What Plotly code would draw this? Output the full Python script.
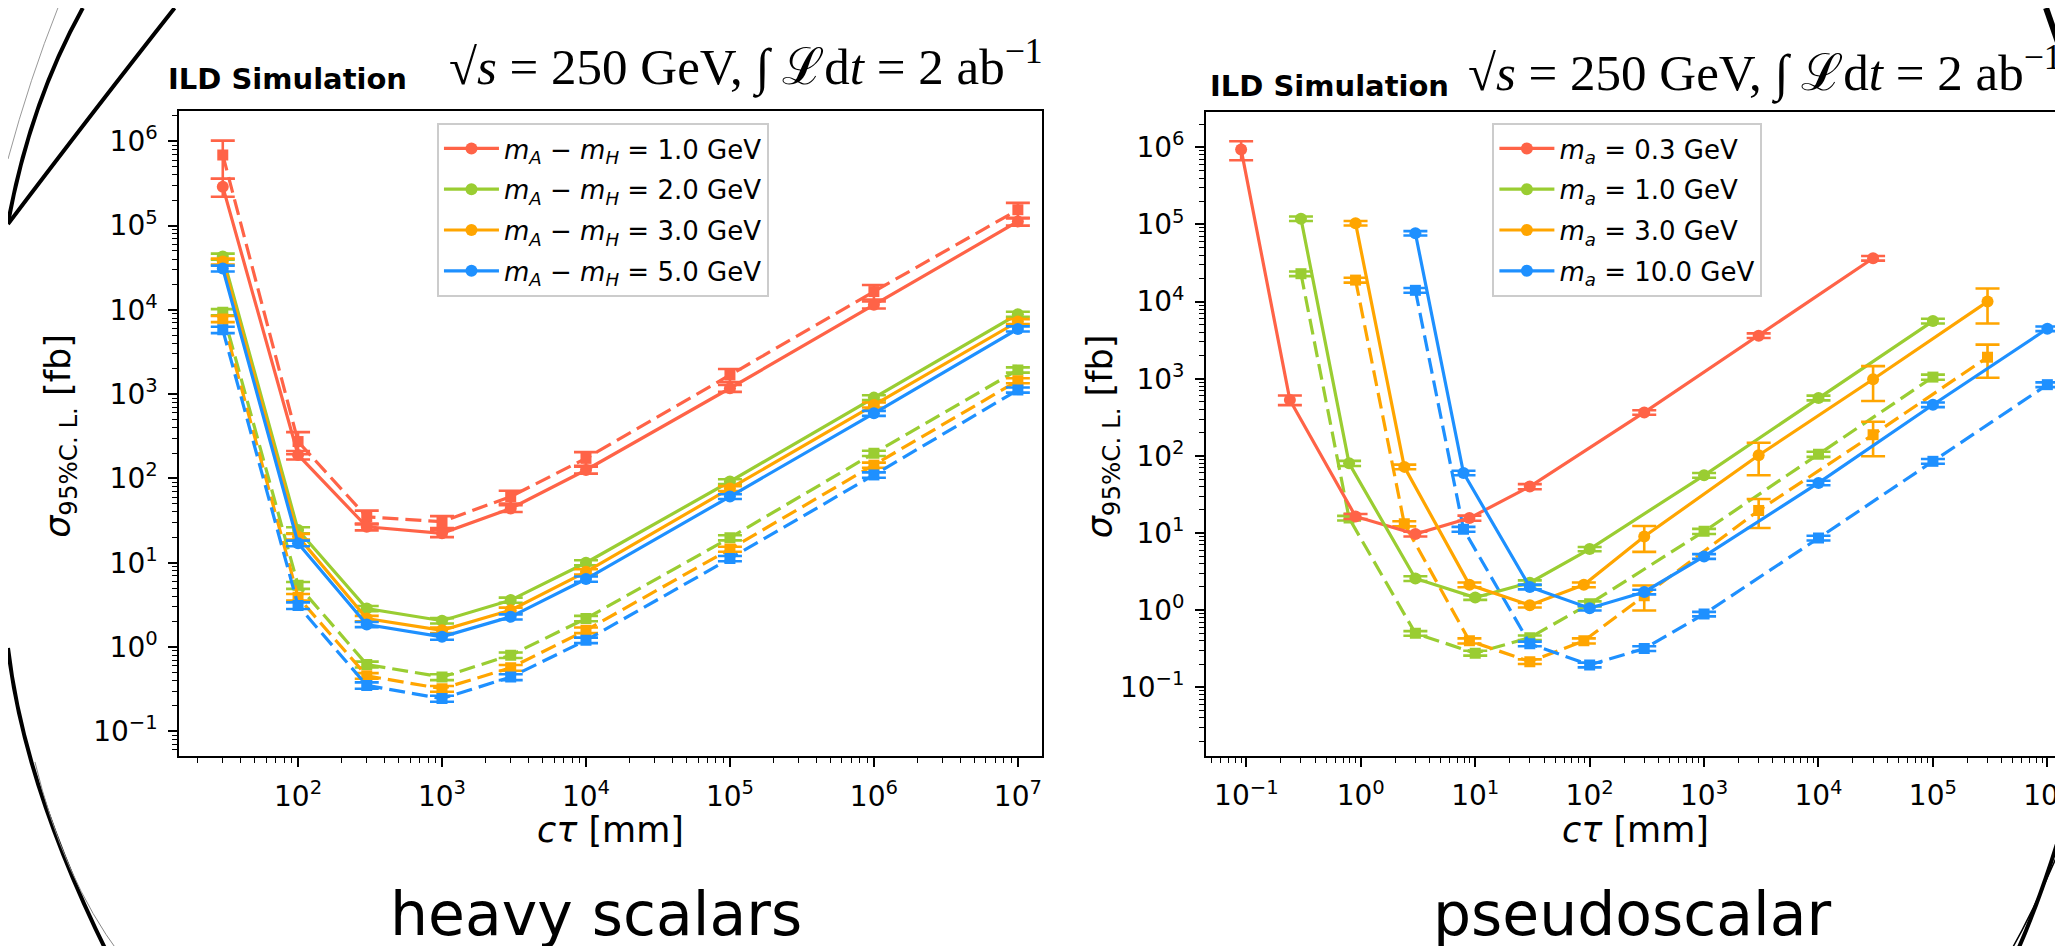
import plotly.graph_objects as go

W, H = 2063, 946

# ---------------- data: heavy scalars (left panel) ----------------
hs_ctau = [30, 100, 300, 1e3, 3e3, 1e4, 1e5, 1e6, 1e7]
hs_names = ["1.0", "2.0", "3.0", "5.0"]

hs1_solid = [2.9e5, 190, 26.7, 22.3, 44, 126, 1175, 11500, 1.12e5]
hs2_solid = [4.3e4, 24.4, 2.86, 2.05, 3.6, 10.0, 92, 910, 8900]
hs3_solid = [3.76e4, 20.4, 2.18, 1.58, 2.73, 7.8, 76, 745, 7280]
hs5_solid = [3.1e4, 17.0, 1.85, 1.32, 2.28, 6.4, 61, 593, 5950]

hs1_dash = [6.9e5, 274, 35, 30.7, 61, 173, 1690, 16500, 1.54e5]
hs2_dash = [9.4e3, 5.4, 0.62, 0.44, 0.80, 2.18, 19.8, 199, 1940]
hs3_dash = [7.8e3, 3.9, 0.455, 0.32, 0.567, 1.58, 14.5, 144, 1445]
hs5_dash = [5.8e3, 3.1, 0.35, 0.244, 0.44, 1.2, 11.2, 110, 1122]

hs1_solid_err = [7e4, 22, 2.5, 2.2, 4, 12, 110, 1100, 1.2e4]
hs2_solid_err = [3.5e3, 2.0, 0.2, 0.15, 0.25, 0.7, 6, 60, 600]
hs3_solid_err = [3.0e3, 1.6, 0.16, 0.12, 0.2, 0.55, 5, 50, 500]
hs5_solid_err = [2.5e3, 1.3, 0.13, 0.1, 0.16, 0.45, 4, 40, 420]
hs1_dash_err = [3.3e5, 80, 6.5, 5, 10.5, 32, 300, 3200, 3.2e4]
hs2_dash_err = [800, 0.5, 0.05, 0.035, 0.06, 0.16, 1.4, 14, 140]
hs3_dash_err = [650, 0.35, 0.035, 0.025, 0.045, 0.12, 1.0, 10, 100]
hs5_dash_err = [500, 0.28, 0.03, 0.02, 0.035, 0.09, 0.8, 8, 80]

# ---------------- data: pseudoscalar (right panel) ----------------
ps_names = ["0.3", "1.0", "3.0", "10.0"]

ps03_ctau = [0.09, 0.24, 0.9, 3.0, 8.9, 30, 300, 3000, 30000]
ps03_solid = [9.4e5, 530, 16.4, 9.7, 15.6, 40, 366, 3620, 36500]
ps03_solid_err = [2.6e5, 75, 1.2, 0.7, 1.2, 3, 25, 250, 2500]

ps1_ctau = [0.3, 0.79, 3, 10, 30, 100, 1000, 1e4, 1e5]
ps1_solid = [1.19e5, 80, 2.57, 1.46, 2.27, 6.2, 56, 564, 5590]
ps1_dash = [2.3e4, 15.6, 0.5, 0.277, 0.44, 1.21, 10.5, 105, 1050]
ps1_solid_err = [8e3, 6, 0.18, 0.1, 0.16, 0.4, 4, 40, 400]
ps1_dash_err = [1.6e3, 1.1, 0.035, 0.02, 0.03, 0.09, 0.8, 8, 80]

ps3_ctau = [0.9, 2.4, 8.9, 30, 89, 300, 3000, 3e4, 3e5]
ps3_solid = [1.04e5, 72, 2.13, 1.16, 2.13, 9.0, 102, 985, 1.0e4]
ps3_dash = [1.9e4, 13.2, 0.4, 0.215, 0.4, 1.54, 19.6, 188, 1900]
ps3_solid_err = [7e3, 5, 0.15, 0.08, 0.15, 3.3, 46, 470, 4800]
ps3_dash_err = [1.4e3, 1, 0.03, 0.015, 0.03, 0.55, 8, 89, 870]

ps10_ctau = [3, 7.9, 30, 100, 300, 1000, 1e4, 1e5, 1e6]
ps10_solid = [7.7e4, 60, 2.0, 1.06, 1.72, 4.97, 44.6, 460, 4450]
ps10_dash = [1.4e4, 11.2, 0.366, 0.195, 0.318, 0.89, 8.6, 85, 838]
ps10_solid_err = [5e3, 4, 0.14, 0.07, 0.12, 0.35, 3, 32, 310]
ps10_dash_err = [1e3, 0.8, 0.025, 0.014, 0.022, 0.06, 0.6, 6, 60]

# ---------------- ticks ----------------
hs_xticks = [1e2, 1e3, 1e4, 1e5, 1e6, 1e7]
hs_xticktext = ["10<sup>2</sup>", "10<sup>3</sup>", "10<sup>4</sup>", "10<sup>5</sup>", "10<sup>6</sup>", "10<sup>7</sup>"]
hs_yticks = [1e-1, 1e0, 1e1, 1e2, 1e3, 1e4, 1e5, 1e6]
hs_yticktext = ["10<sup>−1</sup>", "10<sup>0</sup>", "10<sup>1</sup>", "10<sup>2</sup>", "10<sup>3</sup>",
                "10<sup>4</sup>", "10<sup>5</sup>", "10<sup>6</sup>"]
ps_xticks = [1e-1, 1e0, 1e1, 1e2, 1e3, 1e4, 1e5, 1e6]
ps_xticktext = ["10<sup>−1</sup>", "10<sup>0</sup>", "10<sup>1</sup>", "10<sup>2</sup>", "10<sup>3</sup>",
                "10<sup>4</sup>", "10<sup>5</sup>", "10<sup>6</sup>"]

RED, GREEN, ORANGE, BLUE = "#FF6347", "#9ACD32", "#FFA500", "#1E90FF"
FONT = "DejaVu Sans"


def minor_vals(lo, hi):
    out = []
    for e in range(lo, hi + 1):
        for m in range(2, 10):
            out.append(m * 10.0 ** e)
    return out


fig = go.Figure()
_grp = [0]


def add(x, y, err, color, dash, name, xa, ya, legend, show):
    _grp[0] += 1
    fig.add_trace(go.Scatter(
        x=x, y=y, mode="lines+markers", name=name, showlegend=show, legend=legend,
        legendgroup=f"g{_grp[0]}",
        xaxis=xa, yaxis=ya,
        line=dict(color=color, width=3.2, dash="16px,7px" if dash else "solid"),
        marker=dict(color=color, size=12 if not dash else 11, symbol="square" if dash else "circle"),
        error_y=dict(type="data", array=err, symmetric=True, thickness=2.6, width=12, color=color),
    ))


def hs_name(v):
    return f"<i>m</i><sub><i>A</i></sub> − <i>m</i><sub><i>H</i></sub> = {v} GeV"


def ps_name(v):
    return f"<i>m</i><sub><i>a</i></sub> = {v} GeV"


# left panel
add(hs_ctau, hs1_dash, hs1_dash_err, RED, True, "", "x", "y", "legend", False)
add(hs_ctau, hs2_dash, hs2_dash_err, GREEN, True, "", "x", "y", "legend", False)
add(hs_ctau, hs3_dash, hs3_dash_err, ORANGE, True, "", "x", "y", "legend", False)
add(hs_ctau, hs5_dash, hs5_dash_err, BLUE, True, "", "x", "y", "legend", False)
add(hs_ctau, hs1_solid, hs1_solid_err, RED, False, hs_name(hs_names[0]), "x", "y", "legend", True)
add(hs_ctau, hs2_solid, hs2_solid_err, GREEN, False, hs_name(hs_names[1]), "x", "y", "legend", True)
add(hs_ctau, hs3_solid, hs3_solid_err, ORANGE, False, hs_name(hs_names[2]), "x", "y", "legend", True)
add(hs_ctau, hs5_solid, hs5_solid_err, BLUE, False, hs_name(hs_names[3]), "x", "y", "legend", True)

# right panel
add(ps1_ctau, ps1_dash, ps1_dash_err, GREEN, True, "", "x2", "y2", "legend2", False)
add(ps3_ctau, ps3_dash, ps3_dash_err, ORANGE, True, "", "x2", "y2", "legend2", False)
add(ps10_ctau, ps10_dash, ps10_dash_err, BLUE, True, "", "x2", "y2", "legend2", False)
add(ps03_ctau, ps03_solid, ps03_solid_err, RED, False, ps_name(ps_names[0]), "x2", "y2", "legend2", True)
add(ps1_ctau, ps1_solid, ps1_solid_err, GREEN, False, ps_name(ps_names[1]), "x2", "y2", "legend2", True)
add(ps3_ctau, ps3_solid, ps3_solid_err, ORANGE, False, ps_name(ps_names[2]), "x2", "y2", "legend2", True)
add(ps10_ctau, ps10_solid, ps10_solid_err, BLUE, False, ps_name(ps_names[3]), "x2", "y2", "legend2", True)


def axis(domain, rng, tickvals, ticktext, minor, anchor, mirror=True):
    return dict(
        type="log", domain=domain, range=rng, anchor=anchor,
        tickmode="array", tickvals=tickvals, ticktext=ticktext,
        ticks="outside", ticklen=9, tickwidth=1.8, tickcolor="black",
        minor=dict(tickmode="array", tickvals=minor, ticks="outside", ticklen=5, tickwidth=1.3, tickcolor="black"),
        showline=True, linecolor="black", linewidth=2, mirror=mirror,
        showgrid=False, zeroline=False, ticklabeloverflow="allow",
        tickfont=dict(family=FONT, size=28, color="black"), ticklabelstandoff=5,
    )


def X(px):
    return px / W


def Y(py):
    return 1 - py / H


leg_common = dict(xanchor="left", yanchor="top", bgcolor="rgba(255,255,255,0.8)",
                  bordercolor="#cccccc", borderwidth=2, font=dict(family=FONT, size=26, color="black"),
                  tracegroupgap=4, itemwidth=55)

layout = dict(
    width=W, height=H, margin=dict(l=0, r=0, t=0, b=0),
    paper_bgcolor="white", plot_bgcolor="white",
    xaxis=axis([X(171.7), X(1037)], [1.175, 7.171], hs_xticks, hs_xticktext, minor_vals(1, 7), "y"),
    yaxis=axis([Y(748.3), Y(103)], [-1.297, 6.36], hs_yticks, hs_yticktext, minor_vals(-2, 6), "x"),
    xaxis2=axis([X(1201), 1.0], [-1.352, 6.163], ps_xticks, ps_xticktext, minor_vals(-2, 6), "y2"),
    yaxis2=axis([Y(747.7), Y(104)], [-1.887, 6.458], hs_yticks, hs_yticktext, minor_vals(-2, 6), "x2", mirror=False),
    legend=dict(x=X(430), y=Y(115), **leg_common),
    legend2=dict(x=X(1488), y=Y(115), **leg_common),
    showlegend=True,
)
fig.update_layout(**layout)

MATH = "√<i>s</i> = 250 GeV, ∫ ℒd<i>t</i> = 2 ab<sup>−1</sup>"
ann = []
# titles
ann.append(dict(text="<b>ILD Simulation</b>", x=X(158), y=Y(90), xanchor="left", yanchor="bottom",
                font=dict(family=FONT, size=29, color="black")))
ann.append(dict(text=MATH, x=X(1040), y=Y(92), xanchor="right", yanchor="bottom",
                font=dict(family="Liberation Serif", size=51, color="black")))
ann.append(dict(text="<b>ILD Simulation</b>", x=X(1203), y=Y(97), xanchor="left", yanchor="bottom",
                font=dict(family=FONT, size=29, color="black")))
ann.append(dict(text=MATH, x=X(1462), y=Y(98), xanchor="left", yanchor="bottom",
                font=dict(family="Liberation Serif", size=51, color="black")))
# axis titles
for cx in (604, 1631):
    ann.append(dict(text="<i>cτ</i> [mm]", x=X(cx), y=Y(822), xanchor="center", yanchor="middle",
                    font=dict(family=FONT, size=35, color="black")))
for cx in (52, 1097):
    ann.append(dict(text="<i>σ</i><sub>95%C. L.</sub> [fb]", x=X(cx), y=Y(428), xanchor="center",
                    yanchor="middle", textangle=-90, font=dict(family=FONT, size=35, color="black")))
# bottom labels
ann.append(dict(text="heavy scalars", x=X(589), y=Y(906), xanchor="center", yanchor="middle",
                font=dict(family=FONT, size=60, color="black")))
ann.append(dict(text="pseudoscalar", x=X(1628), y=Y(906), xanchor="center", yanchor="middle",
                font=dict(family=FONT, size=60, color="black")))
for a in ann:
    a.update(xref="paper", yref="paper", showarrow=False)
fig.update_layout(annotations=ann)


def P(x, y):
    return f"{x / W:.5f},{1 - y / H:.5f}"


shapes = [
    dict(path=f"M {P(50,0)} Q {P(22,70)} {P(0,151)}", line=dict(color="#999999", width=1)),
    dict(path=f"M {P(75,0)} Q {P(22,95)} {P(0,215)}", line=dict(color="black", width=4)),
    dict(path=f"M {P(167,0)} Q {P(88,100)} {P(0,216)}", line=dict(color="black", width=4)),
    dict(path=f"M {P(0,640)} Q {P(16,777)} {P(100,946)}", line=dict(color="black", width=4)),
    dict(path=f"M {P(27,754)} Q {P(55,870)} {P(112,946)}", line=dict(color="#888888", width=1)),
    dict(path=f"M {P(2043,0)} L {P(2063,57)}", line=dict(color="black", width=6)),
    dict(path=f"M {P(2063,806)} Q {P(2040,885)} {P(2013,946)}", line=dict(color="black", width=4)),
    dict(path=f"M {P(2063,826)} Q {P(2035,895)} {P(2006,946)}", line=dict(color="black", width=1.5)),
]
for s in shapes:
    s.update(type="path", xref="paper", yref="paper")
fig.update_layout(shapes=shapes)

fig.write_html("out.html")
